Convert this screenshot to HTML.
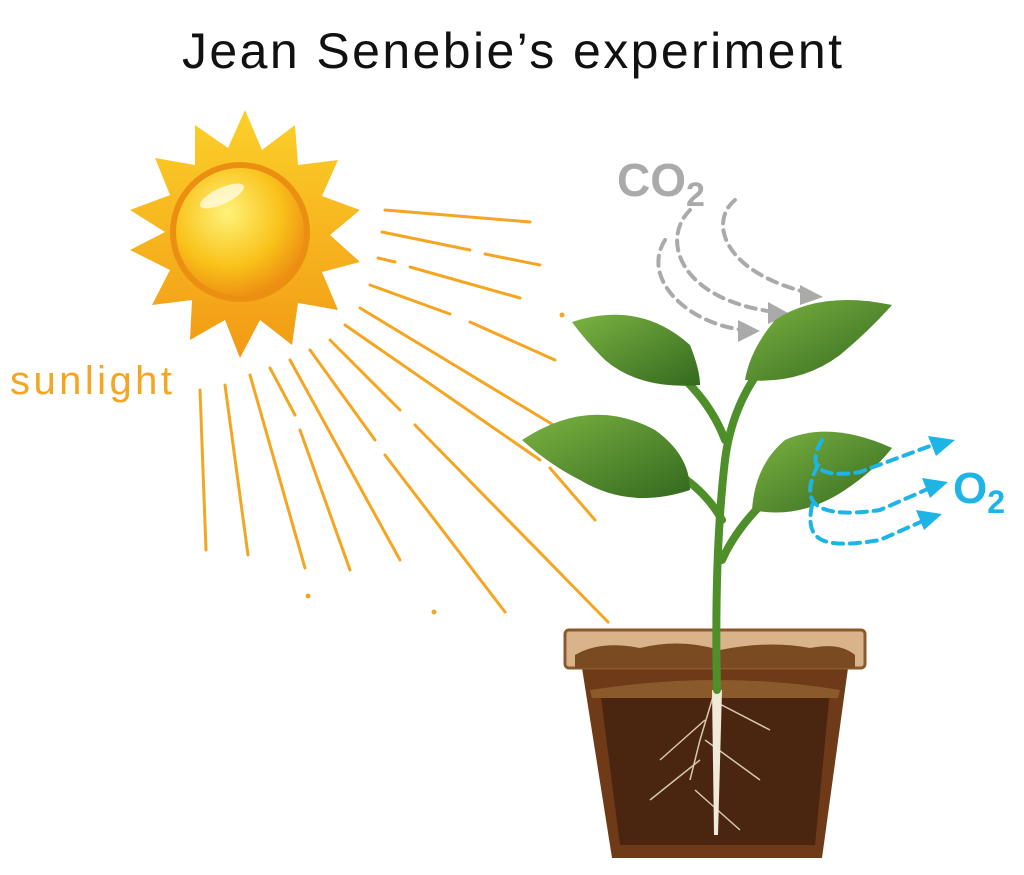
<!DOCTYPE html>
<html><head><meta charset="utf-8"><style>
html,body{margin:0;padding:0;background:#fff;}
svg{display:block;}
</style></head><body>
<svg width="1024" height="875" viewBox="0 0 1024 875" xmlns="http://www.w3.org/2000/svg">
<defs>
<radialGradient id="sun" cx="0.4" cy="0.35" r="0.7">
<stop offset="0" stop-color="#fff27a"/><stop offset="0.6" stop-color="#f9c21a"/><stop offset="1" stop-color="#ec8a12"/>
</radialGradient>
<linearGradient id="spk" x1="0" y1="0" x2="0" y2="1"><stop offset="0" stop-color="#fcd02a"/><stop offset="1" stop-color="#f19a14"/></linearGradient>
<linearGradient id="leaf" x1="0" y1="0" x2="1" y2="1"><stop offset="0" stop-color="#7cb342"/><stop offset="1" stop-color="#33691e"/></linearGradient>
</defs>
<text x="512" y="68" text-anchor="middle" font-family="Liberation Sans, sans-serif" font-size="50" fill="#111" textLength="660">Jean Senebie’s experiment</text>

<polygon fill="url(#spk)" points="
245,110 262,150 295,125 298,165 338,160 322,196 360,210 330,235 360,262 322,272 338,310 298,303 292,345 260,320 240,358 225,320 190,340 192,300 152,305 170,270 130,250 165,232 130,210 170,195 155,158 195,165 195,125 228,148"/>
<circle cx="240" cy="232" r="70" fill="#ea8f12"/>
<circle cx="240" cy="232" r="64" fill="url(#sun)"/>
<ellipse cx="222" cy="196" rx="24" ry="8" fill="#fffbe0" opacity="0.8" transform="rotate(-25 222 196)"/>

<text x="10" y="394" font-family="Liberation Sans, sans-serif" font-size="40" fill="#f4a622" textLength="162">sunlight</text>

<g stroke="#f4a622" stroke-width="3" stroke-linecap="round" fill="none">
<line x1="385" y1="210" x2="530" y2="222"/>
<line x1="382" y1="232" x2="470" y2="250"/><line x1="485" y1="254" x2="540" y2="265"/>
<line x1="378" y1="258" x2="395" y2="262"/><line x1="410" y1="267" x2="520" y2="298"/>
<line x1="370" y1="285" x2="450" y2="314"/><line x1="470" y1="322" x2="555" y2="360"/>
<line x1="360" y1="308" x2="565" y2="432"/>
<line x1="345" y1="325" x2="540" y2="460"/><line x1="550" y1="468" x2="595" y2="520"/>
<line x1="330" y1="340" x2="400" y2="410"/><line x1="415" y1="425" x2="608" y2="622"/>
<line x1="310" y1="350" x2="375" y2="440"/><line x1="385" y1="455" x2="505" y2="612"/>
<line x1="290" y1="360" x2="400" y2="560"/>
<line x1="270" y1="368" x2="295" y2="415"/><line x1="300" y1="430" x2="350" y2="570"/>
<line x1="250" y1="375" x2="305" y2="568"/>
<line x1="225" y1="385" x2="248" y2="555"/>
<line x1="200" y1="390" x2="206" y2="550"/>
</g>
<g fill="#f4a622"><circle cx="562" cy="315" r="2.5"/><circle cx="308" cy="596" r="2.5"/><circle cx="434" cy="612" r="2.5"/><circle cx="590" cy="440" r="2.5"/></g>

<text x="617" y="196" font-family="Liberation Sans, sans-serif" font-weight="bold" font-size="46" fill="#aaa">CO<tspan font-size="34" dy="10">2</tspan></text>
<g stroke="#aaa" stroke-width="4" stroke-dasharray="10 7" fill="none" stroke-linecap="round">
<path d="M735,200 C710,220 720,270 805,292"/>
<path d="M690,210 C660,240 680,300 775,312"/>
<path d="M665,240 C640,280 690,325 745,330"/>
</g>
<g fill="#aaa"><polygon points="823,297 800,285 800,305"/><polygon points="790,314 768,302 768,324"/><polygon points="760,331 738,320 738,342"/></g>

<path d="M582,668 L848,668 L822,858 L612,858 Z" fill="#6e3a18"/>
<path d="M600,690 L830,690 L815,845 L620,845 Z" fill="#4a250f"/>
<rect x="565" y="630" width="300" height="38" rx="4" fill="#d9b48a" stroke="#8a5a2c" stroke-width="3"/>
<path d="M575,655 Q600,640 640,648 Q680,638 720,650 Q770,640 810,648 Q840,642 855,655 L855,668 L575,668 Z" fill="#7a4a20"/>
<path d="M590,690 Q720,670 840,690 L838,698 L592,698 Z" fill="#8b5a2b"/>
<g stroke="#d8c8b0" stroke-width="1.5" fill="none">
<path d="M715,690 L700,740 L690,780 M705,720 L660,760 M705,740 L760,780 M712,700 L770,730 M700,760 L650,800 M695,790 L740,830"/>
</g>
<path d="M712,690 L722,690 L718,835 L714,835 Z" fill="#f2ead8"/>

<g fill="none" stroke="#4f8f2a" stroke-width="8" stroke-linecap="round">
<path d="M717,690 C715,600 718,520 725,460 C730,420 745,390 760,370"/>
<path d="M722,520 C700,480 660,460 610,445"/>
<path d="M722,560 C740,520 780,480 830,455"/>
<path d="M725,440 C710,400 680,370 640,345"/>
</g>
<path d="M572,322 Q640,300 690,345 Q700,370 700,385 Q640,390 605,360 Q585,340 572,322Z" fill="url(#leaf)"/>
<path d="M892,305 Q820,290 775,320 Q750,350 745,380 Q800,385 840,355 Q870,330 892,305Z" fill="url(#leaf)"/>
<path d="M522,440 Q590,395 655,430 Q690,455 690,490 Q630,510 580,480 Q550,465 522,440Z" fill="url(#leaf)"/>
<path d="M892,448 Q830,420 785,440 Q755,465 752,510 Q800,520 845,490 Q875,470 892,448Z" fill="url(#leaf)"/>

<text x="953" y="503" font-family="Liberation Sans, sans-serif" font-weight="bold" font-size="44" fill="#1fb4e6">O<tspan font-size="32" dy="10">2</tspan></text>
<g stroke="#1fb4e6" stroke-width="4" stroke-dasharray="10 7" fill="none" stroke-linecap="round">
<path d="M822,440 C810,460 810,480 860,472 L930,446"/>
<path d="M818,465 C800,500 810,520 880,510 L930,488"/>
<path d="M812,505 C805,540 820,550 880,540 L925,520"/>
</g>
<g fill="#1fb4e6"><polygon points="955,440 928,436 936,456"/><polygon points="948,482 922,478 930,498"/><polygon points="942,514 916,510 924,530"/></g>
</svg>
</body></html>
